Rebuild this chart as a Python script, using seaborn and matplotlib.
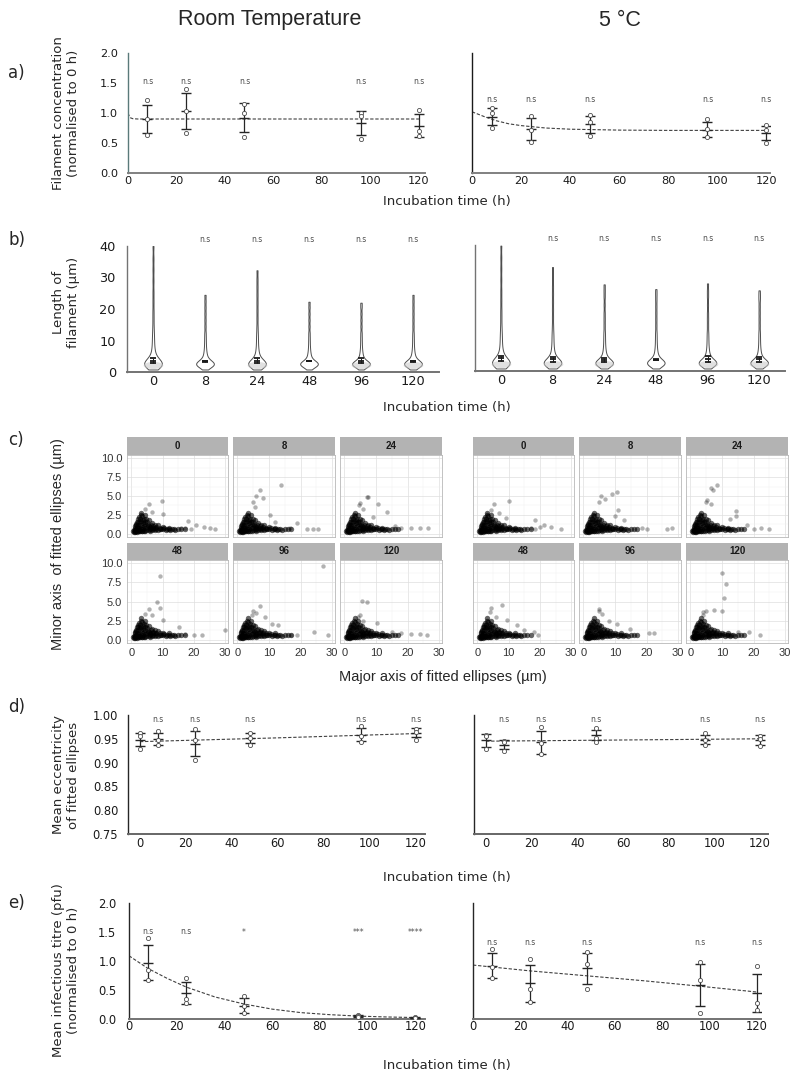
import numpy as np
import pandas as pd
import seaborn as sns
import matplotlib.pyplot as plt
from matplotlib.path import Path
from matplotlib.transforms import Affine2D
from matplotlib.ticker import FormatStrFormatter

sns.set_theme(style='white')
plt.rcParams['font.family'] = ['DejaVu Sans']

W, H = 800, 1084
GG_FONT = ['Liberation Sans', 'DejaVu Sans']
TITLE_FONT = ['Liberation Sans Narrow', 'Liberation Sans', 'DejaVu Sans']

# ---------------- data ----------------
times = [8, 24, 48, 96, 120]
times_all = [0, 8, 24, 48, 96, 120]
time_labels = ['0', '8', '24', '48', '96', '120']

# a) filament concentration (normalised to 0 h)
conc_rt_mean = [0.90, 1.03, 0.92, 0.84, 0.79]
conc_rt_sd = [0.24, 0.30, 0.24, 0.20, 0.19]
conc_rt_pts = [[1.22, 0.90, 0.63], [1.40, 1.03, 0.67], [1.15, 1.00, 0.60],
               [1.00, 0.95, 0.57], [1.05, 0.70, 0.62]]
conc_rt_fit_t = [0, 0.5, 1, 2, 4, 120]
conc_rt_fit_y = [1.00, 0.95, 0.92, 0.905, 0.90, 0.90]

conc_5c_mean = [0.94, 0.735, 0.81, 0.725, 0.665]
conc_5c_sd = [0.14, 0.185, 0.14, 0.125, 0.115]
conc_5c_pts = [[1.08, 1.00, 0.75], [0.95, 0.72, 0.52], [0.97, 0.85, 0.62],
               [0.90, 0.73, 0.60], [0.80, 0.72, 0.50]]
conc_5c_fit_t = [0, 5, 10, 15, 20, 30, 40, 60, 80, 120]
conc_5c_fit_y = [1.02, 0.94, 0.87, 0.82, 0.79, 0.75, 0.73, 0.715, 0.71, 0.71]

# b) filament length distributions (um)
length_core = [0.8, 1.2, 1.5, 1.7, 1.9, 2.0, 2.1, 2.2, 2.3, 2.4, 2.5, 2.6, 2.7,
               2.8, 2.9, 3.0, 3.1, 3.2, 3.4, 3.6, 3.8, 4.1, 4.5, 5.0, 5.6, 6.3,
               7.2, 8.3, 9.6, 11.0]
length_tail_rt = [[12.5, 14.5, 17, 19.5, 22.5, 25.5, 29, 32.5, 36, 40],
                  [12.5, 14.5, 16.5, 18.5, 20.5, 22.5, 24.5],
                  [12.5, 14.5, 17, 19.5, 22, 24.5, 27, 29.5, 32.3],
                  [12.5, 14.5, 16.5, 18.5, 20.5, 22.3],
                  [12.5, 14.5, 16.5, 18.5, 20.5, 22.0],
                  [12.5, 14.5, 16.5, 18.5, 20.5, 22.5, 24.5]]
length_tail_5c = [[12.5, 14.5, 17, 19.5, 22.5, 25.5, 29, 32.5, 36, 39.8],
                  [12.5, 14.5, 17, 19.5, 22, 24.5, 27, 30, 33],
                  [12.5, 14.5, 16.5, 18.5, 21, 23.5, 25.5, 27.5],
                  [12.5, 14.5, 16.5, 18.5, 20.5, 22.5, 24.3, 26],
                  [12.5, 14.5, 16.5, 18.5, 21, 23.5, 25.5, 27.8],
                  [12.5, 14.5, 16.5, 18.5, 20.5, 22.5, 24, 25.6]]
length_rt_mean = [3.6, 3.4, 3.6, 3.5, 3.6, 3.4]
length_rt_sd = [0.75, 0.15, 0.70, 0.15, 0.75, 0.20]
length_5c_mean = [4.0, 3.8, 3.6, 3.6, 3.8, 3.7]
length_5c_sd = [0.80, 0.80, 0.60, 0.15, 0.90, 0.70]
blob_rt = [2.2, np.nan, 2.2, np.nan, 2.2, 2.2]
blob_5c = [2.2, 2.2, 2.2, np.nan, 2.2, 2.2]

# c) fitted ellipses (major, minor) in um
facet_core = [(0.5, 0.3), (0.7, 0.2), (0.8, 0.5), (1.0, 0.3), (1.0, 0.8), (1.2, 0.5),
              (1.2, 1.0), (1.4, 0.3), (1.5, 0.6), (1.5, 1.3), (1.7, 0.9), (1.8, 1.6),
              (2.0, 0.3), (2.0, 0.7), (2.0, 1.9), (2.2, 1.2), (2.3, 0.5), (2.5, 0.9),
              (2.5, 2.2), (2.6, 1.5), (2.8, 0.3), (2.8, 1.9), (3.0, 0.6), (3.0, 1.2),
              (3.0, 2.5), (3.2, 1.7), (3.3, 0.4), (3.5, 0.9), (3.5, 2.3), (3.6, 1.4),
              (3.8, 0.6), (4.0, 0.4), (4.0, 1.0), (4.0, 2.0), (4.3, 1.6), (4.5, 0.7),
              (4.5, 1.3), (4.8, 0.5), (5.0, 0.9), (5.0, 1.5), (5.2, 1.1), (5.5, 0.5),
              (5.5, 1.0), (6.0, 0.6), (6.0, 0.9), (6.2, 1.2), (6.5, 0.5), (6.8, 0.8),
              (7.0, 0.6), (7.0, 1.0), (7.5, 0.5), (7.5, 0.8), (8.0, 0.6), (8.0, 0.9),
              (8.5, 0.5), (9.0, 0.6), (9.0, 0.8), (9.5, 0.55), (10.0, 0.6), (10.5, 0.7),
              (11.0, 0.5), (11.5, 0.65), (12.0, 0.6), (12.5, 0.5), (13.0, 0.55),
              (13.5, 0.6), (14.0, 0.5), (15.0, 0.55), (1.3, 0.15), (1.8, 0.25),
              (2.4, 0.35), (3.5, 0.3), (4.5, 0.35), (6.0, 0.4), (3.8, 1.8), (2.2, 1.6),
              (1.6, 1.1), (5.8, 0.75), (4.8, 1.9), (6.5, 1.4), (8.5, 1.1), (10.0, 0.9),
              (3.2, 2.8), (4.2, 2.5), (5.5, 1.8), (7.5, 1.2), (12.0, 0.8), (16.0, 0.6),
              (17.0, 0.55)]
facet_out_rt = {
    '0': [(9.7, 4.3), (5.5, 3.9), (4.5, 3.3), (6.5, 2.9), (10.0, 2.6), (18.2, 1.7),
          (20.8, 1.2), (23.1, 0.9), (25.2, 0.8), (26.6, 0.57), (17.0, 0.8), (19.0, 0.6),
          (16.0, 0.7)],
    '8': [(13.8, 6.4), (7.0, 5.8), (6.0, 5.0), (8.1, 4.7), (5.0, 4.2), (5.5, 3.6),
          (10.2, 2.5), (18.9, 1.4), (22.0, 0.6), (24.0, 0.6), (25.5, 0.55), (16.5, 0.7),
          (12.0, 1.5)],
    '24': [(7.0, 4.9), (7.5, 4.9), (10.7, 4.0), (5.0, 4.1), (4.5, 3.8), (13.6, 2.85),
           (6.0, 3.3), (9.0, 2.2), (18.0, 0.8), (21.0, 0.7), (24.0, 0.7), (26.5, 0.7),
           (16.0, 1.0)],
    '48': [(9.0, 8.4), (8.3, 4.9), (9.0, 4.2), (5.5, 4.0), (10.2, 2.55), (6.5, 3.2),
           (4.5, 3.4), (15.2, 1.7), (29.9, 1.3), (22.6, 0.66), (20.0, 0.6), (17.0, 0.7)],
    '96': [(27.0, 9.6), (7.3, 4.4), (5.0, 3.7), (6.0, 3.5), (4.5, 3.2), (8.8, 2.95),
           (11.0, 2.1), (13.0, 1.9), (24.3, 1.0), (28.8, 0.66), (19.0, 0.6), (17.0, 0.6)],
    '120': [(5.6, 5.1), (7.2, 4.9), (5.0, 3.2), (4.2, 3.0), (6.0, 2.4), (10.4, 2.2),
            (18.0, 0.9), (21.0, 0.7), (24.0, 0.7), (26.0, 0.6), (15.0, 1.0)],
}
facet_out_5c = {
    '0': [(10.0, 4.3), (5.4, 3.9), (4.5, 3.2), (7.0, 2.8), (9.0, 2.1), (18.3, 1.75),
          (21.2, 1.1), (23.6, 0.9), (26.8, 0.57), (17.0, 0.7), (18.5, 0.6), (20.0, 0.9)],
    '8': [(10.5, 5.5), (9.2, 5.2), (5.6, 5.0), (6.8, 4.6), (5.0, 4.2), (11.1, 3.2),
          (10.0, 2.3), (13.0, 1.8), (26.6, 0.57), (27.9, 0.7), (18.7, 0.8), (20.0, 0.6)],
    '24': [(8.3, 6.4), (6.4, 6.0), (7.0, 5.8), (5.2, 4.5), (5.0, 4.2), (6.6, 3.9),
           (14.5, 3.0), (14.5, 2.4), (12.5, 2.0), (22.4, 0.8), (24.9, 0.66), (20.0, 0.6),
           (18.0, 1.1)],
    '48': [(7.8, 4.6), (4.3, 4.2), (4.0, 3.6), (6.0, 3.0), (9.5, 2.6), (12.6, 1.9),
           (18.0, 1.0), (19.3, 0.66), (15.0, 1.2)],
    '96': [(4.8, 4.0), (6.0, 3.4), (5.0, 3.7), (14.9, 1.4), (20.9, 0.9), (22.3, 0.8),
           (10.5, 2.1), (8.0, 2.4)],
    '120': [(9.9, 8.7), (11.3, 7.3), (10.7, 5.5), (9.9, 3.7), (3.9, 3.6), (4.8, 3.7),
            (7.4, 3.9), (4.0, 3.2), (15.0, 1.0), (18.6, 1.0), (22.1, 0.57)],
}

# d) mean eccentricity
ecc_rt_mean = [0.948, 0.950, 0.940, 0.9515, 0.959, 0.9625]
ecc_rt_sd = [0.014, 0.013, 0.026, 0.0105, 0.013, 0.0095]
ecc_rt_pts = [[0.962, 0.955, 0.928], [0.967, 0.948, 0.937], [0.970, 0.948, 0.906],
              [0.963, 0.951, 0.938], [0.976, 0.956, 0.944], [0.970, 0.965, 0.948]]
ecc_rt_fit_t = [0, 60, 120]
ecc_rt_fit_y = [0.944, 0.952, 0.961]

ecc_5c_mean = [0.947, 0.938, 0.9425, 0.9575, 0.9485, 0.948]
ecc_5c_sd = [0.014, 0.009, 0.0235, 0.0105, 0.0095, 0.010]
ecc_5c_pts = [[0.958, 0.955, 0.928], [0.946, 0.944, 0.925], [0.974, 0.942, 0.918],
              [0.972, 0.952, 0.944], [0.963, 0.948, 0.938], [0.956, 0.950, 0.935]]
ecc_5c_fit_t = [0, 60, 120]
ecc_5c_fit_y = [0.945, 0.9475, 0.950]

# e) infectious titre (normalised to 0 h)
titre_rt_mean = [0.97, 0.45, 0.23, 0.05, 0.02]
titre_rt_sd = [0.30, 0.19, 0.13, 0.02, 0.01]
titre_rt_pts = [[1.39, 0.85, 0.67], [0.71, 0.34, 0.27], [0.40, 0.23, 0.11],
                [0.07, 0.05, 0.03], [0.03, 0.02, 0.01]]
titre_rt_fit_t = [0, 8, 16, 24, 36, 48, 60, 72, 84, 96, 108, 120]
titre_rt_fit_y = [1.09, 0.87, 0.70, 0.55, 0.38, 0.26, 0.17, 0.11, 0.075, 0.05, 0.035, 0.025]
titre_rt_sig = ['n.s', 'n.s', '*', '***', '****']

titre_5c_mean = [0.92, 0.615, 0.875, 0.585, 0.45]
titre_5c_sd = [0.21, 0.315, 0.265, 0.365, 0.33]
titre_5c_pts = [[1.20, 0.90, 0.71], [1.04, 0.51, 0.30], [1.16, 0.95, 0.52],
                [0.98, 0.68, 0.10], [0.91, 0.28, 0.16]]
titre_5c_fit_t = [0, 24, 48, 72, 96, 120]
titre_5c_fit_y = [0.93, 0.83, 0.745, 0.66, 0.565, 0.465]

ELLIPSE = Affine2D().scale(1.0, 0.36).transform_path(Path.unit_circle())


def add_axes(fig, x0, y0, x1, y1):
    return fig.add_axes([x0 / W, 1 - y1 / H, (x1 - x0) / W, (y1 - y0) / H])


def style_axes(ax, left_color='0.15', bottom_color='0.45', labelsize=8.3,
               ypad=6, xpad=2, show_ylabels=True):
    sns.despine(ax=ax)
    ax.spines['left'].set_color(left_color)
    ax.spines['left'].set_linewidth(1.0)
    ax.spines['bottom'].set_color(bottom_color)
    ax.spines['bottom'].set_linewidth(1.4)
    ax.tick_params(axis='both', length=0, labelsize=labelsize, colors='0.1')
    ax.tick_params(axis='y', pad=ypad)
    ax.tick_params(axis='x', pad=xpad)
    if not show_ylabels:
        ax.tick_params(axis='y', labelleft=False)
    ax.set_xlabel('')
    ax.set_ylabel('')


def time_panel(ax, t, mean, sd, pts, fit_t, fit_y, sig_t, sig, sig_y):
    sns.lineplot(x=fit_t, y=fit_y, ax=ax, color='0.25', linewidth=0.8,
                 linestyle=(0, (3, 1.6)), zorder=2)
    ax.errorbar(t, mean, yerr=sd, fmt='_', markersize=7, markeredgewidth=1.0,
                capsize=3.5, capthick=0.8, elinewidth=0.9, color='0.15', zorder=3)
    df = pd.DataFrame({'t': np.repeat(t, [len(p) for p in pts]),
                       'v': np.concatenate(pts)})
    sns.scatterplot(data=df, x='t', y='v', ax=ax, s=9, color='white',
                    edgecolor='0.3', linewidth=0.6, zorder=4)
    for ti, lab in zip(sig_t, sig):
        ax.text(ti, sig_y, lab, ha='center', va='center', fontsize=5.5,
                color='0.3', clip_on=False)


def violin_panel(ax, tails, means, sds, blobs):
    pos = list(range(len(tails)))
    rows = []
    for i, tail in zip(pos, tails):
        for v in length_core + tail:
            rows.append((i, v))
    df = pd.DataFrame(rows, columns=['pos', 'length'])
    sns.violinplot(data=df, x='pos', y='length', native_scale=True, cut=0,
                   inner=None, density_norm='width', width=0.34, bw_method=0.13,
                   color='white', linecolor='0.3', linewidth=0.7, ax=ax)
    sns.scatterplot(x=pos, y=blobs, marker=ELLIPSE, s=200, color='0.78',
                    alpha=0.55, linewidth=0, ax=ax, zorder=3)
    ax.errorbar(pos, means, yerr=sds, fmt='_', markersize=4, markeredgewidth=1.3,
                capsize=2, capthick=0.7, elinewidth=0.7, color='0.1', zorder=4)
    ax.set_xlim(-0.5, 5.5)
    ax.set_ylim(0, 40)
    ax.set_yticks([0, 10, 20, 30, 40])
    ax.set_xticks(pos)
    ax.set_xticklabels(time_labels)
    for p in pos[1:]:
        ax.text(p, 42, 'n.s', ha='center', va='center', fontsize=5.5,
                color='0.3', clip_on=False)


facet_rows = [((437, 455), (455, 537)), ((543, 560), (560, 643))]


def facet_grid(fig, cols, outliers, show_ylabels):
    core_x = [p[0] for p in facet_core]
    core_y = [p[1] for p in facet_core]
    for k, label in enumerate(time_labels):
        r, c = divmod(k, 3)
        (s0, s1), (p0, p1) = facet_rows[r]
        x0, x1 = cols[c]
        ax = add_axes(fig, x0, p0, x1, p1)
        out = outliers[label]
        sns.scatterplot(x=core_x, y=core_y, color='black', alpha=0.6, s=15,
                        linewidth=0, ax=ax, zorder=3)
        sns.scatterplot(x=[p[0] for p in out], y=[p[1] for p in out],
                        color='black', alpha=0.3, s=10, linewidth=0, ax=ax, zorder=3)
        ax.set_xlim(-1.4, 30.9)
        ax.set_ylim(-0.45, 10.45)
        ax.set_xticks([0, 10, 20, 30])
        ax.set_yticks([0, 2.5, 5, 7.5, 10])
        ax.set_xticks([5, 15, 25], minor=True)
        ax.set_yticks([1.25, 3.75, 6.25, 8.75], minor=True)
        ax.yaxis.set_major_formatter(FormatStrFormatter('%.1f'))
        ax.grid(True, which='major', color='0.87', linewidth=0.5)
        ax.grid(True, which='minor', color='0.94', linewidth=0.3)
        ax.set_axisbelow(True)
        for sp in ax.spines.values():
            sp.set_color('0.72')
            sp.set_linewidth(0.6)
        ax.tick_params(which='major', length=2, color='0.72', labelsize=8,
                       pad=1.5, labelcolor='0.2', labelfontfamily='Liberation Sans')
        ax.tick_params(which='minor', length=0)
        ax.tick_params(labelbottom=(r == 1), labelleft=(c == 0 and show_ylabels))
        ax.set_xlabel('')
        ax.set_ylabel('')
        strip = add_axes(fig, x0, s0, x1, s1)
        strip.set_facecolor('#b3b3b3')
        strip.set_xticks([])
        strip.set_yticks([])
        for sp in strip.spines.values():
            sp.set_visible(False)
        strip.text(0.5, 0.5, label, transform=strip.transAxes, ha='center',
                   va='center', fontsize=7, fontweight='bold', family=GG_FONT,
                   color='0.1')


fig = plt.figure(figsize=(8, 10.84), dpi=100)

# titles and panel letters
fig.text(270 / W, 1 - 20 / H, 'Room Temperature', ha='center', va='center',
         fontsize=15.5, family=TITLE_FONT)
fig.text(620 / W, 1 - 20 / H, '5 °C', ha='center', va='center',
         fontsize=15.5, family=TITLE_FONT)
for lab, yy in [('a)', 73), ('b)', 240), ('c)', 440), ('d)', 707), ('e)', 903)]:
    fig.text(8 / W, 1 - yy / H, lab, ha='left', va='center', fontsize=12)

# ---- a) ----
ax = add_axes(fig, 128, 53, 425, 173)
time_panel(ax, times, conc_rt_mean, conc_rt_sd, conc_rt_pts, conc_rt_fit_t,
           conc_rt_fit_y, times, ['n.s'] * 5, 1.52)
ax.set_xlim(0, 122.5)
ax.set_ylim(0, 2)
ax.set_xticks([0, 20, 40, 60, 80, 100, 120])
ax.set_yticks([0, 0.5, 1.0, 1.5, 2.0])
ax.yaxis.set_major_formatter(FormatStrFormatter('%.1f'))
style_axes(ax, left_color='#5a7a7a', bottom_color='0.5', labelsize=8.2, ypad=7)

ax = add_axes(fig, 472, 53, 770, 173)
time_panel(ax, times, conc_5c_mean, conc_5c_sd, conc_5c_pts, conc_5c_fit_t,
           conc_5c_fit_y, times, ['n.s'] * 5, 1.22)
ax.set_xlim(0, 121.5)
ax.set_ylim(0, 2)
ax.set_xticks([0, 20, 40, 60, 80, 100, 120])
ax.set_yticks([0, 0.5, 1.0, 1.5, 2.0])
style_axes(ax, left_color='0.1', bottom_color='0.5', labelsize=8.2, show_ylabels=False)

fig.text(447 / W, 1 - 202 / H, 'Incubation time (h)', ha='center', va='center', fontsize=9.5)
fig.text(66 / W, 1 - 113 / H, 'Filament concentration\n(normalised to 0 h)', ha='center',
         va='center', rotation=90, fontsize=9.5, multialignment='center')

# ---- b) ----
ax = add_axes(fig, 127, 246, 439, 372)
violin_panel(ax, length_tail_rt, length_rt_mean, length_rt_sd, blob_rt)
style_axes(ax, left_color='0.45', bottom_color='0.45', labelsize=9.3, ypad=8)

ax = add_axes(fig, 475, 245, 785, 371)
violin_panel(ax, length_tail_5c, length_5c_mean, length_5c_sd, blob_5c)
style_axes(ax, left_color='0.45', bottom_color='0.45', labelsize=9.3, show_ylabels=False)

fig.text(447 / W, 1 - 408 / H, 'Incubation time (h)', ha='center', va='center', fontsize=9.5)
fig.text(66 / W, 1 - 302 / H, 'Length of\nfilament (µm)', ha='center', va='center',
         rotation=90, fontsize=9.5, multialignment='center')

# ---- c) ----
facet_grid(fig, [(127, 228), (233, 335), (340, 442)], facet_out_rt, True)
facet_grid(fig, [(473, 574), (579, 681), (686, 788)], facet_out_5c, False)
fig.text(443 / W, 1 - 677 / H, 'Major axis of fitted ellipses (µm)', ha='center',
         va='center', fontsize=10.5, family=GG_FONT)
fig.text(58 / W, 1 - 544 / H, 'Minor axis  of fitted ellipses (µm)', ha='center',
         va='center', rotation=90, fontsize=10.5, family=GG_FONT)

# ---- d) ----
ax = add_axes(fig, 128, 715, 425, 834)
time_panel(ax, times_all, ecc_rt_mean, ecc_rt_sd, ecc_rt_pts, ecc_rt_fit_t,
           ecc_rt_fit_y, times, ['n.s'] * 5, 0.99)
ax.set_xlim(-5.2, 124)
ax.set_ylim(0.75, 1.0)
ax.set_xticks([0, 20, 40, 60, 80, 100, 120])
ax.set_yticks([0.75, 0.80, 0.85, 0.90, 0.95, 1.00])
ax.yaxis.set_major_formatter(FormatStrFormatter('%.2f'))
style_axes(ax, left_color='0.15', bottom_color='0.4', labelsize=8.3, ypad=7)

ax = add_axes(fig, 474, 715, 768, 834)
time_panel(ax, times_all, ecc_5c_mean, ecc_5c_sd, ecc_5c_pts, ecc_5c_fit_t,
           ecc_5c_fit_y, times, ['n.s'] * 5, 0.99)
ax.set_xlim(-5.3, 123.5)
ax.set_ylim(0.75, 1.0)
ax.set_xticks([0, 20, 40, 60, 80, 100, 120])
ax.set_yticks([0.75, 0.80, 0.85, 0.90, 0.95, 1.00])
style_axes(ax, left_color='0.15', bottom_color='0.4', labelsize=8.3, show_ylabels=False)

fig.text(447 / W, 1 - 877 / H, 'Incubation time (h)', ha='center', va='center', fontsize=9.5)
fig.text(66 / W, 1 - 775 / H, 'Mean eccentricity\nof fitted ellipses', ha='center',
         va='center', rotation=90, fontsize=9.5, multialignment='center')

# ---- e) ----
ax = add_axes(fig, 129, 903, 425, 1019)
time_panel(ax, times, titre_rt_mean, titre_rt_sd, titre_rt_pts, titre_rt_fit_t,
           titre_rt_fit_y, times, titre_rt_sig, 1.5)
ax.set_xlim(0, 124)
ax.set_ylim(0, 2)
ax.set_xticks([0, 20, 40, 60, 80, 100, 120])
ax.set_yticks([0, 0.5, 1.0, 1.5, 2.0])
ax.yaxis.set_major_formatter(FormatStrFormatter('%.1f'))
style_axes(ax, left_color='0.15', bottom_color='0.45', labelsize=8.3, ypad=9, xpad=1)

ax = add_axes(fig, 473, 903, 761, 1019)
time_panel(ax, times, titre_5c_mean, titre_5c_sd, titre_5c_pts, titre_5c_fit_t,
           titre_5c_fit_y, times, ['n.s'] * 5, 1.32)
ax.set_xlim(0, 121.7)
ax.set_ylim(0, 2)
ax.set_xticks([0, 20, 40, 60, 80, 100, 120])
ax.set_yticks([0, 0.5, 1.0, 1.5, 2.0])
style_axes(ax, left_color='0.15', bottom_color='0.45', labelsize=8.3, xpad=1,
           show_ylabels=False)

fig.text(447 / W, 1 - 1066 / H, 'Incubation time (h)', ha='center', va='center', fontsize=9.5)
fig.text(66 / W, 1 - 970 / H, 'Mean infectious titre (pfu)\n(normalised to 0 h)',
         ha='center', va='center', rotation=90, fontsize=9.5, multialignment='center')

fig.savefig('out.png', dpi=100, facecolor='white')
